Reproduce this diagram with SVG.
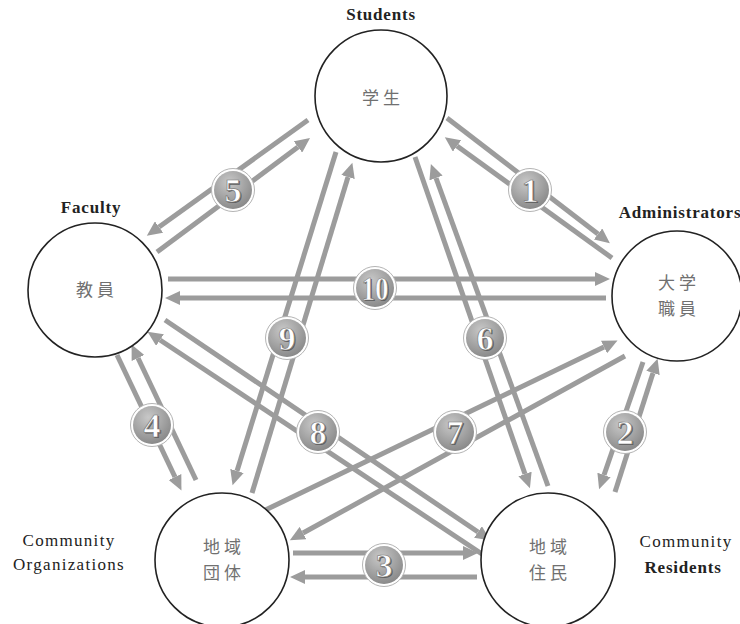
<svg xmlns="http://www.w3.org/2000/svg" width="740" height="624" viewBox="0 0 740 624">
<style>
.node{fill:#fff;stroke:#222;stroke-width:1.6}
.jp{font-family:"Noto Sans CJK JP","Noto Sans",sans-serif;font-size:17px;fill:#707070;text-anchor:middle;letter-spacing:4px}
.en{font-family:"Liberation Serif",serif;font-size:17px;fill:#222;text-anchor:middle;letter-spacing:1.3px}
.b{font-weight:bold;letter-spacing:0.8px}
.ar{stroke:#9c9c9c;stroke-width:5;fill:none}
.bn{font-family:"Liberation Serif",serif;font-weight:bold;font-size:34px;fill:#fff;stroke:#7a7a7a;stroke-width:0.7;text-anchor:middle}
.bs{font-family:"Liberation Serif",serif;font-weight:bold;font-size:34px;fill:#5e5e5e;text-anchor:middle}
</style>
<defs>
<marker id="ah" markerUnits="userSpaceOnUse" markerWidth="16" markerHeight="14" refX="0" refY="7" orient="auto">
<path d="M0,0 L15,7 L0,14 z" fill="#9c9c9c"/>
</marker>
<radialGradient id="bg" cx="0.4" cy="0.3" r="0.8">
<stop offset="0" stop-color="#c8c8c8"/>
<stop offset="1" stop-color="#828282"/>
</radialGradient>
<g id="badge">
<circle r="21.5" fill="#fff" stroke="#b4b4b4" stroke-width="1"/>
<circle r="19" fill="url(#bg)"/>
</g>
</defs>
<g id="connectors">
<line class="ar" x1="168" y1="279" x2="595" y2="279" marker-end="url(#ah)"/>
<line class="ar" x1="606" y1="298" x2="180" y2="298" marker-end="url(#ah)"/>
<line class="ar" x1="293" y1="553" x2="463" y2="553" marker-end="url(#ah)"/>
<line class="ar" x1="477" y1="577" x2="305" y2="577" marker-end="url(#ah)"/>
<line class="ar" x1="308" y1="120" x2="159" y2="227" marker-end="url(#ah)"/>
<line class="ar" x1="157" y1="252" x2="298" y2="147" marker-end="url(#ah)"/>
<line class="ar" x1="447" y1="118" x2="598" y2="234" marker-end="url(#ah)"/>
<line class="ar" x1="612" y1="258" x2="457" y2="146" marker-end="url(#ah)"/>
<line class="ar" x1="336" y1="152" x2="237" y2="471" marker-end="url(#ah)"/>
<line class="ar" x1="252" y1="493" x2="348" y2="177" marker-end="url(#ah)"/>
<line class="ar" x1="415" y1="157" x2="525" y2="474" marker-end="url(#ah)"/>
<line class="ar" x1="548" y1="486" x2="436" y2="178" marker-end="url(#ah)"/>
<line class="ar" x1="117" y1="355" x2="175" y2="477" marker-end="url(#ah)"/>
<line class="ar" x1="196" y1="480" x2="138" y2="358" marker-end="url(#ah)"/>
<line class="ar" x1="165" y1="320" x2="478" y2="532" marker-end="url(#ah)"/>
<line class="ar" x1="485" y1="556" x2="160" y2="340" marker-end="url(#ah)"/>
<line class="ar" x1="255" y1="515" x2="604" y2="347" marker-end="url(#ah)"/>
<line class="ar" x1="625" y1="356" x2="303" y2="533" marker-end="url(#ah)"/>
<line class="ar" x1="643" y1="362" x2="604" y2="475" marker-end="url(#ah)"/>
<line class="ar" x1="615" y1="492" x2="653" y2="373" marker-end="url(#ah)"/>
</g>
<g id="badges">
<g transform="translate(375,288)"><use href="#badge"/><text class="bs" x="1.3" y="13.3" textLength="27" lengthAdjust="spacingAndGlyphs">10</text><text class="bn" y="12" textLength="27" lengthAdjust="spacingAndGlyphs">10</text></g>
<g transform="translate(384,565)"><use href="#badge"/><text class="bs" x="1.3" y="13.3">3</text><text class="bn" y="12">3</text></g>
<g transform="translate(233,190)"><use href="#badge"/><text class="bs" x="1.3" y="13.3">5</text><text class="bn" y="12">5</text></g>
<g transform="translate(530,190)"><use href="#badge"/><text class="bs" x="1.3" y="13.3">1</text><text class="bn" y="12">1</text></g>
<g transform="translate(287,338)"><use href="#badge"/><text class="bs" x="1.3" y="13.3">9</text><text class="bn" y="12">9</text></g>
<g transform="translate(485,338)"><use href="#badge"/><text class="bs" x="1.3" y="13.3">6</text><text class="bn" y="12">6</text></g>
<g transform="translate(152,425)"><use href="#badge"/><text class="bs" x="1.3" y="13.3">4</text><text class="bn" y="12">4</text></g>
<g transform="translate(318,432)"><use href="#badge"/><text class="bs" x="1.3" y="13.3">8</text><text class="bn" y="12">8</text></g>
<g transform="translate(455,432)"><use href="#badge"/><text class="bs" x="1.3" y="13.3">7</text><text class="bn" y="12">7</text></g>
<g transform="translate(625,432)"><use href="#badge"/><text class="bs" x="1.3" y="13.3">2</text><text class="bn" y="12">2</text></g>
</g>
<g id="students">
<circle class="node" cx="381" cy="96" r="66"/>
<text class="jp" x="383" y="104">学生</text>
<text class="en b" x="381" y="20">Students</text>
</g>
<g id="faculty">
<circle class="node" cx="95" cy="290" r="67"/>
<text class="jp" x="97" y="296">教員</text>
<text class="en b" x="91" y="213">Faculty</text>
</g>
<g id="administrators">
<circle class="node" cx="677" cy="296" r="65"/>
<text class="jp" x="679" y="289">大学</text>
<text class="jp" x="679" y="315">職員</text>
<text class="en b" x="680" y="218">Administrators</text>
</g>
<g id="community-organizations">
<circle class="node" cx="222" cy="560" r="67"/>
<text class="jp" x="224" y="553">地域</text>
<text class="jp" x="224" y="579">団体</text>
<text class="en" x="69" y="546">Community</text>
<text class="en" x="69" y="570">Organizations</text>
</g>
<g id="community-residents">
<circle class="node" cx="548" cy="560" r="67"/>
<text class="jp" x="550" y="553">地域</text>
<text class="jp" x="550" y="579">住民</text>
<text class="en" x="686" y="547">Community</text>
<text class="en b" x="683" y="573">Residents</text>
</g>
</svg>
